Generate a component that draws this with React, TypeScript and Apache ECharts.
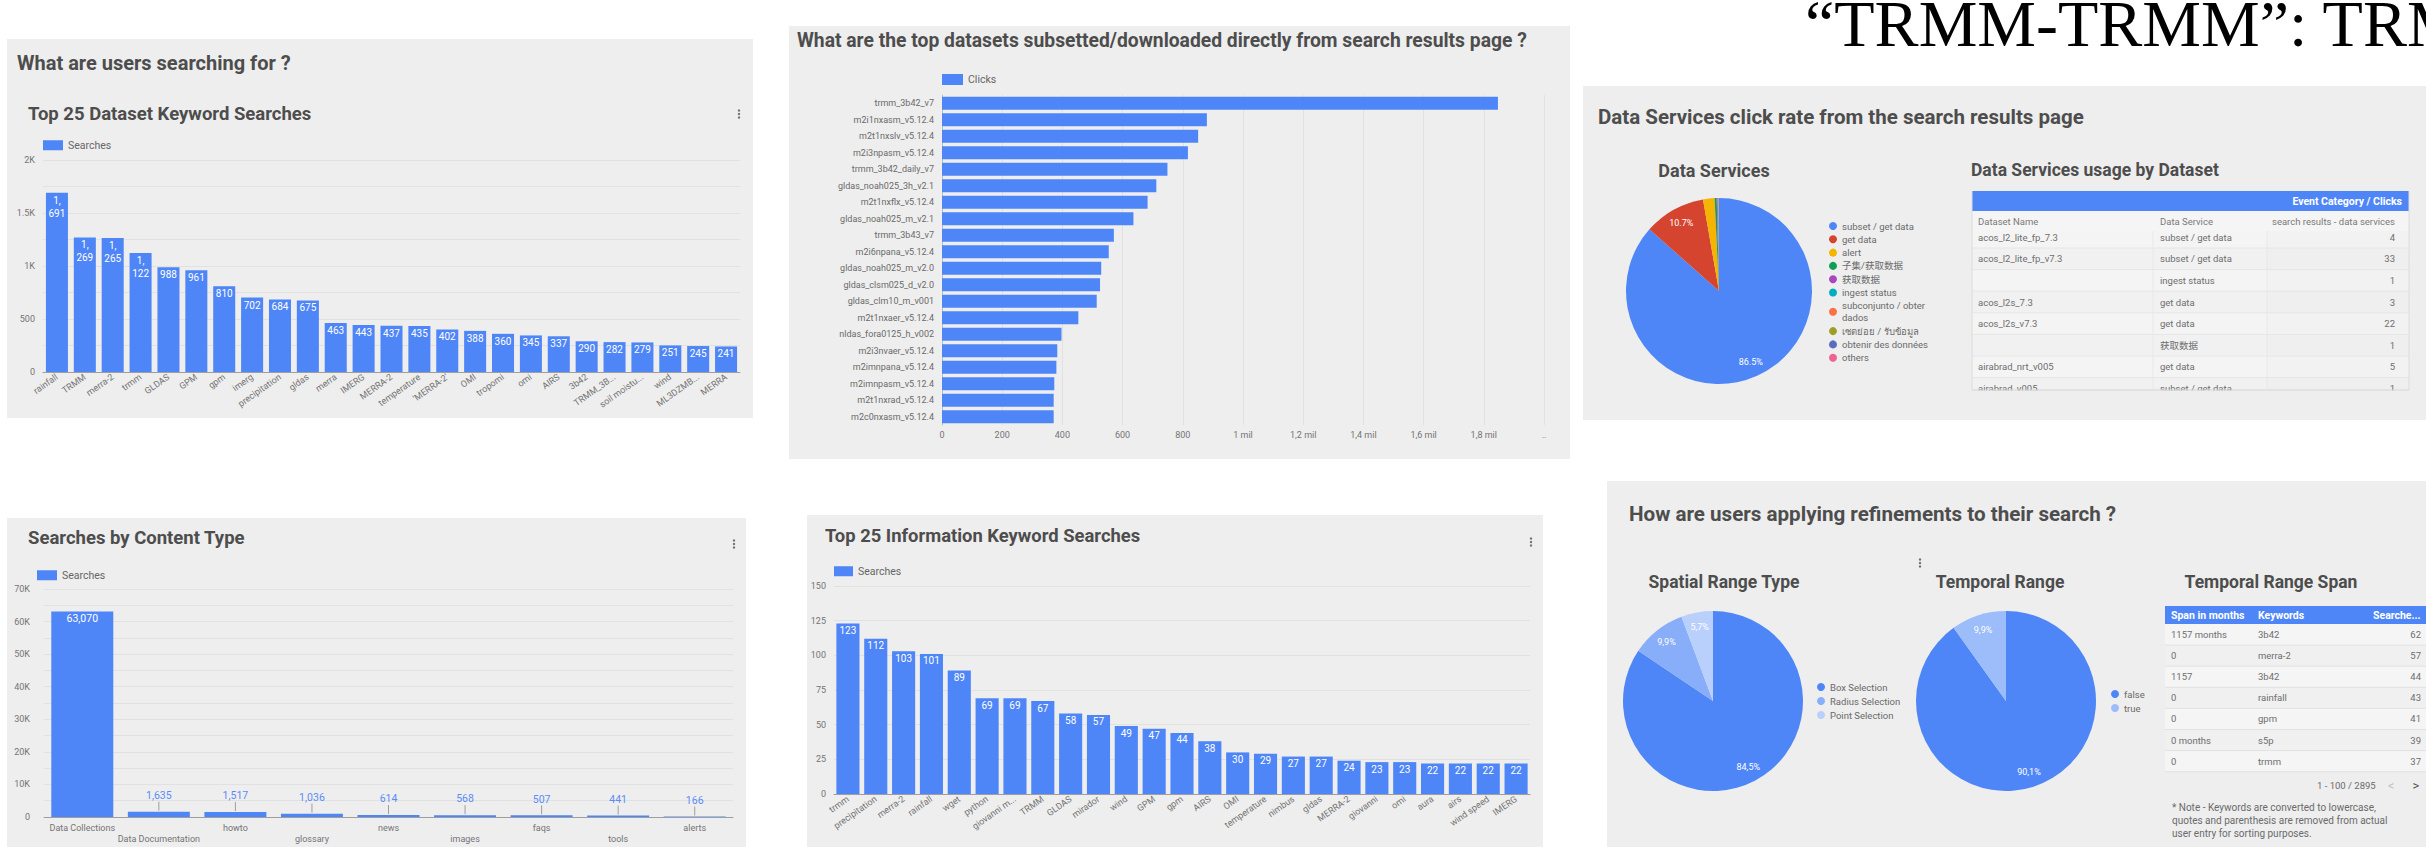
import React, { useEffect, useRef } from 'react';
import * as echarts from 'echarts';

// ---------- data ----------
const datasetKeywords = ['rainfall', 'TRMM', 'merra-2', 'trmm', 'GLDAS', 'GPM', 'gpm', 'imerg', 'precipitation', 'gldas', 'merra', 'IMERG', 'MERRA-2', 'temperature', "'MERRA-2'", 'OMI', 'tropomi', 'omi', 'AIRS', '3b42', 'TRMM_3B...', 'soil moistu...', 'wind', 'ML3DZMB...', 'MERRA'];
const datasetKeywordSearches = [1691, 1269, 1265, 1122, 988, 961, 810, 702, 684, 675, 463, 443, 437, 435, 402, 388, 360, 345, 337, 290, 282, 279, 251, 245, 241];

const downloadDatasets = ['trmm_3b42_v7', 'm2i1nxasm_v5.12.4', 'm2t1nxslv_v5.12.4', 'm2i3npasm_v5.12.4', 'trmm_3b42_daily_v7', 'gldas_noah025_3h_v2.1', 'm2t1nxflx_v5.12.4', 'gldas_noah025_m_v2.1', 'trmm_3b43_v7', 'm2i6npana_v5.12.4', 'gldas_noah025_m_v2.0', 'gldas_clsm025_d_v2.0', 'gldas_clm10_m_v001', 'm2t1nxaer_v5.12.4', 'nldas_fora0125_h_v002', 'm2i3nvaer_v5.12.4', 'm2imnpana_v5.12.4', 'm2imnpasm_v5.12.4', 'm2t1nxrad_v5.12.4', 'm2c0nxasm_v5.12.4'];
const downloadClicks = [1847, 880, 851, 817, 749, 712, 683, 636, 571, 554, 529, 525, 514, 453, 397, 383, 380, 373, 371, 371];

const contentTypes = ['Data Collections', 'Data Documentation', 'howto', 'glossary', 'news', 'images', 'faqs', 'tools', 'alerts'];
const contentSearches = [63070, 1635, 1517, 1036, 614, 568, 507, 441, 166];

const infoKeywords = ['trmm', 'precipitation', 'merra-2', 'rainfall', 'wget', 'python', 'giovanni m...', 'TRMM', 'GLDAS', 'mirador', 'wind', 'GPM', 'gpm', 'AIRS', 'OMI', 'temperature', 'nimbus', 'gldas', 'MERRA-2', 'giovanni', 'omi', 'aura', 'airs', 'wind speed', 'IMERG'];
const infoSearches = [123, 112, 103, 101, 89, 69, 69, 67, 58, 57, 49, 47, 44, 38, 30, 29, 27, 27, 24, 23, 23, 22, 22, 22, 22];

const serviceNames = ['subset / get data', 'get data', 'alert', '子集/获取数据', '获取数据', 'ingest status', 'subconjunto / obter dados', 'เซตย่อย / รับข้อมูล', 'obtenir des données', 'others'];
const serviceShare = [86.5, 10.7, 2.0, 0.35, 0.15, 0.1, 0.05, 0.05, 0.03, 0.02];

const spatialNames = ['Box Selection', 'Radius Selection', 'Point Selection'];
const spatialShare = [84.5, 9.9, 5.7];

const temporalNames = ['false', 'true'];
const temporalShare = [90.1, 9.9];

const dsNames = ['acos_l2_lite_fp_7.3', 'acos_l2_lite_fp_v7.3', '', 'acos_l2s_7.3', 'acos_l2s_v7.3', '', 'airabrad_nrt_v005', 'airabrad_v005'];
const dsServices = ['subset / get data', 'subset / get data', 'ingest status', 'get data', 'get data', '获取数据', 'get data', 'subset / get data'];
const dsClicks = [4, 33, 1, 3, 22, 1, 5, 1];

const spanMonths = ['1157 months', '0', '1157', '0', '0', '0 months', '0'];
const spanKeywords = ['3b42', 'merra-2', '3b42', 'rainfall', 'gpm', 's5p', 'trmm'];
const spanSearches = [62, 57, 44, 43, 41, 39, 37];

const noteLines = ['* Note - Keywords are converted to lowercase,', 'quotes and parenthesis are removed from actual', 'user entry for sorting purposes.'];

// ---------- styles ----------
const FONT = "Roboto, 'Noto Sans CJK SC', 'Noto Sans', 'DejaVu Sans', sans-serif";
const BLUE = '#4f86f7';
const TITLE = '#4d4d4d';
const AXIS = '#747474';
const PANEL = '#eeeeee';
const GRIDLINE = '#e1e1e1';
const serviceColors = ['#4f86f7', '#d4442f', '#f4b400', '#0f9d58', '#ab47bc', '#00acc1', '#ff7043', '#9e9d24', '#5c6bc0', '#f06292'];
const spatialColors = ['#4f86f7', '#88adf9', '#b9cffc'];
const temporalColors = ['#4f86f7', '#9cbcfa'];

const txt = (text: string, x: number, y: number, o: any = {}) => ({
  type: 'text',
  silent: true,
  z: o.z ?? 5,
  style: {
    text, x, y,
    fill: o.color || TITLE,
    fontSize: o.size || 10,
    fontFamily: o.family || FONT,
    fontWeight: o.weight || 'normal',
    textAlign: o.align || 'left',
    textVerticalAlign: 'middle',
    align: o.align || 'left',
    verticalAlign: 'middle',
  },
});
const rect = (x: number, y: number, w: number, h: number, fill: string, z = 1) => ({
  type: 'rect', silent: true, z, shape: { x, y, width: w, height: h }, style: { fill },
});
const hline = (x1: number, x2: number, y: number, color: string, z = 3) => ({
  type: 'line', silent: true, z, shape: { x1, y1: y, x2, y2: y }, style: { stroke: color, lineWidth: 1 },
});
const vline = (x: number, y1: number, y2: number, color: string, z = 3) => ({
  type: 'line', silent: true, z, shape: { x1: x, y1, x2: x, y2 }, style: { stroke: color, lineWidth: 1 },
});
const dots = (x: number, y: number) => [0, 1, 2].map((i) => ({
  type: 'circle', silent: true, z: 5, shape: { cx: x, cy: y - 3.5 + i * 3.5, r: 1.2 }, style: { fill: '#707070' },
}));

function table1(): any[] {
  const els: any[] = [];
  const x0 = 1972, x1 = 2409, c2 = 2153, c3 = 2267;
  els.push(rect(x0, 191, x1 - x0, 20, BLUE, 2));
  els.push(txt('Event Category / Clicks', 2402, 201, { align: 'right', color: '#fff', weight: 'bold', size: 10.5 }));
  els.push(rect(x0, 211, x1 - x0, 20, '#f5f5f5', 2));
  els.push(txt('Dataset Name', 1978, 221, { color: '#7a7a7a', size: 9.5 }));
  els.push(txt('Data Service', 2160, 221, { color: '#7a7a7a', size: 9.5 }));
  els.push(txt('search results - data services', 2395, 221, { align: 'right', color: '#7a7a7a', size: 9.5 }));
  const rh = 21.6, off = 4.6, top0 = 231, bottom = 390;
  dsNames.forEach((n, i) => {
    const t = i === 0 ? top0 : top0 + rh * i - off;
    const b = Math.min(top0 + rh * (i + 1) - off, bottom);
    els.push(rect(x0, t, c3 - x0, b - t, i % 2 ? '#f1f1f1' : '#f4f4f4', 2));
    els.push(rect(c3, t, x1 - c3, b - t, i % 2 ? '#efefef' : '#f2f2f2', 2));
    els.push(hline(x0, x1, b, '#e6e6e6'));
    const cy = top0 - off + rh * i + rh / 2;
    if (n) els.push(txt(n, 1978, cy, { color: '#6e6e6e', size: 9.5 }));
    els.push(txt(dsServices[i], 2160, cy, { color: '#6e6e6e', size: 9.5 }));
    els.push(txt(String(dsClicks[i]), 2395, cy, { color: '#6e6e6e', size: 9.5, align: 'right' }));
  });
  els.push(vline(c2, 231, bottom, '#e8e8e8'));
  els.push(vline(c3, 231, bottom, '#e8e8e8'));
  els.push(rect(x0 - 1, bottom + 0.5, x1 - x0 + 2, 9, PANEL, 8));
  els.push(hline(x0, x1, bottom, '#d8d8d8', 9));
  els.push(vline(x0, 191, bottom, '#dcdcdc', 9));
  els.push(vline(x1, 191, bottom, '#dcdcdc', 9));
  return els;
}

function table2(): any[] {
  const els: any[] = [];
  const x0 = 2165, x1 = 2426;
  els.push(rect(x0, 606, x1 - x0, 18, BLUE, 2));
  els.push(txt('Span in months', 2171, 615, { color: '#fff', weight: 'bold', size: 10.5 }));
  els.push(txt('Keywords', 2258, 615, { color: '#fff', weight: 'bold', size: 10.5 }));
  els.push(txt('Searche...', 2373, 615, { color: '#fff', weight: 'bold', size: 10.5 }));
  const rh = 21.1, top0 = 624;
  spanMonths.forEach((m, i) => {
    const t = top0 + rh * i;
    els.push(rect(x0, t, x1 - x0, rh, i % 2 ? '#f0f0f0' : '#f5f5f5', 2));
    els.push(hline(x0, x1, t + rh, '#e2e2e2'));
    const cy = t + rh / 2;
    els.push(txt(m, 2171, cy, { color: '#6e6e6e', size: 9.5 }));
    els.push(txt(spanKeywords[i], 2258, cy, { color: '#6e6e6e', size: 9.5 }));
    els.push(txt(String(spanSearches[i]), 2421, cy, { color: '#6e6e6e', size: 9.5, align: 'right' }));
  });
  els.push(txt('1 - 100 / 2895', 2317, 785, { color: '#6b6b6b', size: 9.5 }));
  els.push(txt('<', 2391, 785, { color: '#c2c2c2', size: 13, align: 'center' }));
  els.push(txt('>', 2416, 785, { color: '#555', size: 13, align: 'center' }));
  noteLines.forEach((l, i) => els.push(txt(l, 2172, 807 + i * 13, { color: '#6b6b6b', size: 10 })));
  return els;
}

const catAxis = (gridIndex: number, data: string[], label: any = {}) => ({
  type: 'category', gridIndex, data,
  axisTick: { show: false },
  axisLine: { show: true, lineStyle: { color: '#9e9e9e' } },
  axisLabel: { color: AXIS, fontSize: 9, interval: 0, fontFamily: FONT, ...label },
  splitLine: { show: false },
});
const valAxis = (gridIndex: number, min: number, max: number, interval: number, formatter: any, margin = 8) => ({
  type: 'value', gridIndex, min, max, interval,
  axisLine: { show: false }, axisTick: { show: false },
  axisLabel: { color: AXIS, fontSize: 9, margin, formatter, fontFamily: FONT },
  splitLine: { show: true, lineStyle: { color: GRIDLINE } },
});

const barLegend = (name: string, left: number, top: number, w: number, h: number) => ({
  data: [name], left, top, padding: 0, itemWidth: w, itemHeight: h, icon: 'rect', selectedMode: false,
  textStyle: { color: '#666', fontSize: 10.5, fontFamily: FONT },
});
const pieLegend = (data: string[], left: number, top: number, gap: number, formatter?: any) => ({
  data, left, top, padding: 0, orient: 'vertical', icon: 'circle', itemWidth: 8, itemHeight: 8, itemGap: gap,
  selectedMode: false, formatter,
  textStyle: { color: '#6a6a6a', fontSize: 9.5, lineHeight: 12, fontFamily: FONT },
});

const pieMain = (name: string, names: string[], vals: number[], colors: string[], center: number[], r: number) => ({
  type: 'pie', name, center, radius: r, startAngle: 90, silent: true,
  label: { show: false }, labelLine: { show: false }, emphasis: { disabled: true },
  itemStyle: { borderWidth: 0 },
  data: names.map((n, i) => ({ name: n, value: vals[i], itemStyle: { color: colors[i] } })),
});
const pieLabels = (name: string, names: string[], vals: number[], center: number[], r: number, dec: string) => ({
  type: 'pie', name, center, radius: [r * 0.6, r], startAngle: 90, silent: true,
  labelLine: { show: false }, emphasis: { disabled: true },
  itemStyle: { color: 'rgba(0,0,0,0)', borderWidth: 0 },
  label: {
    show: true, position: 'inside', color: '#ffffff', fontSize: 9, fontFamily: FONT,
    formatter: (p: any) => (p.value >= 5 ? p.value.toFixed(1).replace('.', dec) + '%' : ''),
  },
  data: names.map((n, i) => ({ name: n, value: vals[i] })),
});

function buildOption() {
  const graphics: any[] = [
    // panels
    rect(7, 39, 746, 379, PANEL, 0),
    rect(789, 26, 781, 433, PANEL, 0),
    rect(1583, 86, 843, 334, PANEL, 0),
    rect(7, 518, 739, 329, PANEL, 0),
    rect(807, 515, 736, 332, PANEL, 0),
    rect(1607, 481, 819, 366, PANEL, 0),
    // stray page heading (cut off at the right edge, as in the original)
    txt('“TRMM-TRMM”: TRMM', 1805, 23, { family: "'Liberation Serif', 'Times New Roman', serif", size: 66, color: '#000' }),
    // titles
    txt('What are users searching for ?', 17, 63, { size: 20, weight: 'bold' }),
    txt('Top 25 Dataset Keyword Searches', 28, 114, { size: 18.5, weight: 'bold' }),
    ...dots(739, 114),
    txt('What are the top datasets subsetted/downloaded directly from search results page ?', 797, 40, { size: 19.3, weight: 'bold' }),
    txt('Data Services click rate from the search results page', 1598, 117, { size: 20.5, weight: 'bold' }),
    txt('Data Services', 1714, 170, { size: 18, weight: 'bold', align: 'center' }),
    txt('Data Services usage by Dataset', 1971, 170, { size: 17.5, weight: 'bold' }),
    txt('Searches by Content Type', 28, 538, { size: 18.5, weight: 'bold' }),
    ...dots(734, 544),
    txt('Top 25 Information Keyword Searches', 825, 535, { size: 18.4, weight: 'bold' }),
    ...dots(1531, 542),
    txt('How are users applying refinements to their search ?', 1629, 514, { size: 20.6, weight: 'bold' }),
    ...dots(1920, 563),
    txt('Spatial Range Type', 1724, 582, { size: 17.5, weight: 'bold', align: 'center' }),
    txt('Temporal Range', 2000, 582, { size: 17.5, weight: 'bold', align: 'center' }),
    txt('Temporal Range Span', 2271, 582, { size: 17.5, weight: 'bold', align: 'center' }),
    ...table1(),
    ...table2(),
  ];

  const thousandsSplit = (p: any) => {
    const v = p.value as number;
    if (v >= 1000) return Math.floor(v / 1000) + ',\n' + String(v % 1000).padStart(3, '0');
    return String(v);
  };

  return {
    animation: false,
    textStyle: { fontFamily: FONT },
    grid: [
      { left: 43, top: 160, width: 697, height: 212, outerBoundsMode: 'none' },
      { left: 942, top: 95, width: 602, height: 330, outerBoundsMode: 'none' },
      { left: 44, top: 589, width: 689, height: 228, outerBoundsMode: 'none' },
      { left: 834, top: 586, width: 696, height: 208, outerBoundsMode: 'none' },
    ],
    xAxis: [
      catAxis(0, datasetKeywords, { rotate: 35, margin: 4 }),
      {
        type: 'value', gridIndex: 1, min: 0, max: 2000, interval: 200,
        axisLine: { show: false }, axisTick: { show: false },
        splitLine: { show: true, lineStyle: { color: GRIDLINE } },
        axisLabel: {
          color: AXIS, fontSize: 9, margin: 5, fontFamily: FONT,
          formatter: (v: number) => (v < 1000 ? String(v) : v === 2000 ? '..' : String(v / 1000).replace('.', ',') + ' mil'),
        },
      },
      catAxis(2, contentTypes, { margin: 5, lineHeight: 11, formatter: (v: string, i: number) => (i % 2 ? '\n' + v : v) }),
      catAxis(3, infoKeywords, { rotate: 35, margin: 4 }),
    ],
    yAxis: [
      valAxis(0, 0, 2000, 250, (v: number) => (v % 500 === 0 ? (v >= 1000 ? v / 1000 + 'K' : String(v)) : '')),
      {
        type: 'category', gridIndex: 1, data: downloadDatasets, inverse: true,
        axisTick: { show: false },
        axisLine: { show: true, lineStyle: { color: '#bdbdbd' } },
        axisLabel: { color: '#6a6a6a', fontSize: 9, margin: 8, interval: 0, fontFamily: FONT },
      },
      valAxis(2, 0, 70000, 5000, (v: number) => (v % 10000 === 0 ? (v === 0 ? '0' : v / 1000 + 'K') : ''), 14),
      valAxis(3, 0, 150, 25, (v: number) => String(v)),
    ],
    legend: [
      barLegend('Searches', 43, 140, 20, 10),
      barLegend('Clicks', 942, 74, 21, 11),
      barLegend('Searches', 37, 570, 20, 10),
      barLegend('Searches', 834, 566, 19, 10),
      pieLegend(serviceNames, 1829, 220, 1.3, (n: string) => (n === 'subconjunto / obter dados' ? 'subconjunto / obter\ndados' : n)),
      pieLegend(spatialNames, 1817, 681, 2),
      pieLegend(temporalNames, 2111, 688, 2),
    ],
    series: [
      {
        type: 'bar', name: 'Searches', xAxisIndex: 0, yAxisIndex: 0, data: datasetKeywordSearches,
        barCategoryGap: '21%', itemStyle: { color: BLUE },
        label: { show: true, position: 'insideTop', distance: 1, color: '#fff', fontSize: 10, lineHeight: 13, formatter: thousandsSplit },
      },
      {
        type: 'bar', name: 'Clicks', xAxisIndex: 1, yAxisIndex: 1, data: downloadClicks,
        barCategoryGap: '21%', itemStyle: { color: BLUE },
      },
      {
        type: 'bar', name: 'Searches', xAxisIndex: 2, yAxisIndex: 2,
        data: contentSearches.map((v, i) => (i === 0 ? { value: v, label: { position: 'insideTop', color: '#fff', distance: 2 } } : v)),
        barCategoryGap: '19%', itemStyle: { color: BLUE },
        label: {
          show: true, position: 'top', distance: 11, color: '#5a8cf6', fontSize: 10.5,
          formatter: (p: any) => Number(p.value).toLocaleString('en-US'),
        },
      },
      {
        type: 'custom', name: 'contentTicks', xAxisIndex: 2, yAxisIndex: 2, silent: true, z: 3,
        data: contentSearches.map((v, i) => [i, v]).slice(1),
        renderItem: (params: any, api: any) => {
          const p = api.coord([api.value(0), api.value(1)]);
          return { type: 'line', shape: { x1: p[0], y1: p[1] - 1, x2: p[0], y2: p[1] - 10 }, style: { stroke: '#9e9e9e', lineWidth: 1 } };
        },
      },
      {
        type: 'bar', name: 'Searches', xAxisIndex: 3, yAxisIndex: 3, data: infoSearches,
        barCategoryGap: '17%', itemStyle: { color: BLUE },
        label: { show: true, position: 'insideTop', distance: 1, color: '#fff', fontSize: 10, lineHeight: 12 },
      },
      pieMain('Data Services', serviceNames, serviceShare, serviceColors, [1719, 291], 93),
      pieLabels('Data Services labels', serviceNames, serviceShare, [1719, 291], 93, '.'),
      pieMain('Spatial Range Type', spatialNames, spatialShare, spatialColors, [1713, 701], 90),
      pieLabels('Spatial labels', spatialNames, spatialShare, [1713, 701], 90, ','),
      pieMain('Temporal Range', temporalNames, temporalShare, temporalColors, [2006, 701], 90),
      pieLabels('Temporal labels', temporalNames, temporalShare, [2006, 701], 90, ','),
    ],
    graphic: { elements: graphics },
  };
}

export default function App() {
  const ref = useRef<HTMLDivElement>(null);
  useEffect(() => {
    if (!ref.current) return;
    const chart = echarts.init(ref.current, null, { renderer: 'svg', width: 2426, height: 847 });
    chart.setOption(buildOption() as any);
    return () => chart.dispose();
  }, []);
  return (
    <div
      ref={ref}
      style={{ position: 'fixed', left: 0, top: 0, width: 2426, height: 847, background: '#ffffff' }}
    />
  );
}
